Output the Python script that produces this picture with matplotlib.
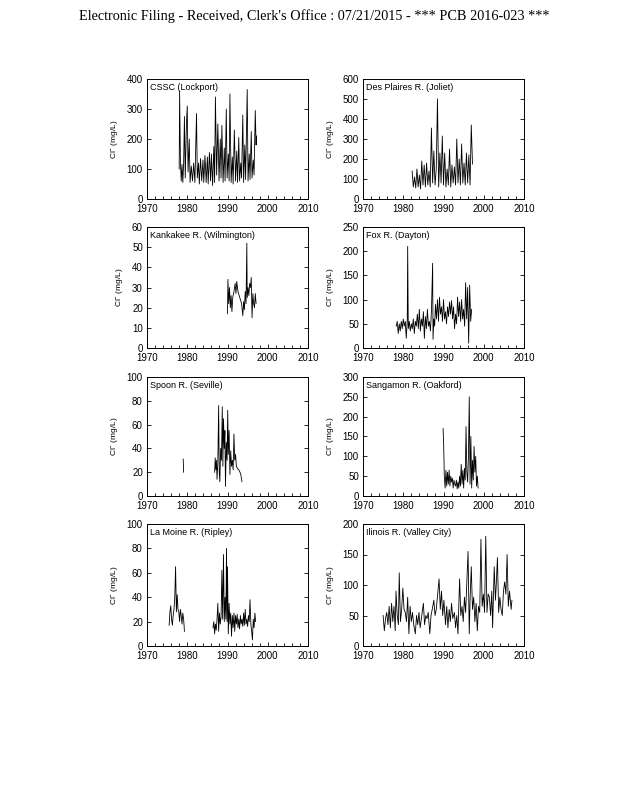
import matplotlib
matplotlib.use("Agg")
import matplotlib.pyplot as plt
from matplotlib.ticker import MultipleLocator

plt.rcParams['font.family'] = ['Liberation Sans', 'DejaVu Sans']
plt.rcParams['mathtext.fontset'] = 'custom'
plt.rcParams['mathtext.rm'] = 'Liberation Sans'

# Chloride records (decimal year, mg/L)
cssc = [(1978.0, 100), (1978.1, 360), (1978.3, 130), (1978.5, 60), (1978.7, 115), (1978.9, 55),
        (1979.1, 120), (1979.3, 275), (1979.5, 70), (1979.8, 250), (1980.0, 310), (1980.2, 90),
        (1980.5, 200), (1980.7, 55), (1981.0, 110), (1981.3, 60), (1981.6, 120), (1981.9, 55),
        (1982.3, 285), (1982.5, 70), (1982.8, 120), (1983.0, 50), (1983.3, 135), (1983.6, 60),
        (1983.9, 130), (1984.1, 55), (1984.4, 145), (1984.7, 55), (1985.0, 140), (1985.2, 50),
        (1985.5, 155), (1985.8, 60), (1986.0, 150), (1986.3, 45), (1986.6, 175), (1986.8, 55),
        (1987.0, 340), (1987.3, 80), (1987.6, 250), (1987.9, 60), (1988.2, 200), (1988.4, 70),
        (1988.6, 245), (1988.9, 55), (1989.2, 170), (1989.4, 60), (1989.7, 300), (1989.9, 70),
        (1990.2, 150), (1990.4, 60), (1990.6, 350), (1990.9, 55), (1991.2, 140), (1991.4, 50),
        (1991.7, 230), (1992.0, 60), (1992.3, 160), (1992.5, 55), (1992.8, 205), (1993.0, 60),
        (1993.3, 120), (1993.5, 70), (1993.8, 280), (1994.0, 55), (1994.3, 180), (1994.5, 65),
        (1994.9, 365), (1995.1, 60), (1995.4, 150), (1995.6, 65), (1995.9, 225), (1996.1, 70),
        (1996.4, 130), (1996.6, 80), (1996.9, 295), (1997.1, 180), (1997.2, 210)]

desplaines = [(1982.2, 140), (1982.5, 60), (1982.8, 110), (1983.1, 55), (1983.4, 150), (1983.7, 60),
              (1984.0, 120), (1984.3, 50), (1984.6, 190), (1984.9, 70), (1985.2, 170), (1985.5, 60),
              (1985.8, 180), (1986.1, 70), (1986.4, 140), (1986.7, 60), (1987.0, 355), (1987.3, 80),
              (1987.6, 240), (1987.9, 70), (1988.2, 150), (1988.5, 500), (1988.8, 60), (1989.1, 230),
              (1989.4, 80), (1989.7, 315), (1990.0, 70), (1990.3, 230), (1990.6, 60), (1990.9, 150),
              (1991.2, 70), (1991.5, 250), (1991.8, 60), (1992.1, 170), (1992.4, 80), (1992.7, 160),
              (1993.0, 70), (1993.3, 300), (1993.6, 80), (1993.9, 200), (1994.2, 70), (1994.5, 275),
              (1994.8, 80), (1995.1, 180), (1995.4, 70), (1995.7, 230), (1996.0, 80), (1996.3, 220),
              (1996.6, 70), (1996.9, 370), (1997.2, 175)]

kankakee = [(1990.0, 17), (1990.1, 34), (1990.3, 22), (1990.5, 30), (1990.7, 20), (1990.9, 26),
            (1991.1, 18), (1991.3, 25), (1991.6, 28), (1991.9, 32), (1992.1, 27), (1992.3, 33),
            (1992.6, 28), (1992.9, 26), (1993.2, 24), (1993.5, 22), (1993.8, 16), (1994.0, 23),
            (1994.2, 19), (1994.4, 28), (1994.6, 22), (1994.8, 52), (1994.9, 25), (1995.1, 30),
            (1995.3, 26), (1995.5, 32), (1995.7, 30), (1995.9, 35), (1996.1, 15), (1996.3, 27),
            (1996.5, 22), (1996.7, 20), (1996.9, 27), (1997.1, 22)]

fox = [(1978.25, 45), (1978.5, 55), (1978.75, 30), (1979.0, 50), (1979.25, 35), (1979.5, 55),
       (1979.75, 40), (1980.0, 60), (1980.25, 45), (1980.5, 55), (1980.75, 20), (1981.0, 60),
       (1981.1, 210), (1981.25, 40), (1981.5, 55), (1981.75, 35), (1982.0, 50), (1982.25, 40),
       (1982.5, 60), (1982.75, 30), (1983.0, 55), (1983.25, 45), (1983.5, 70), (1983.75, 40),
       (1984.0, 80), (1984.25, 35), (1984.5, 60), (1984.75, 45), (1985.0, 75), (1985.25, 20),
       (1985.5, 65), (1985.75, 40), (1986.0, 80), (1986.25, 45), (1986.5, 55), (1986.75, 35),
       (1987.0, 75), (1987.3, 175), (1987.4, 18), (1987.6, 60), (1987.8, 45), (1988.0, 90),
       (1988.25, 60), (1988.5, 100), (1988.75, 55), (1989.0, 105), (1989.25, 70), (1989.5, 85),
       (1989.75, 55), (1990.0, 100), (1990.25, 60), (1990.5, 75), (1990.75, 50), (1991.0, 85),
       (1991.25, 65), (1991.5, 95), (1991.75, 70), (1992.0, 98), (1992.25, 60), (1992.5, 85),
       (1992.75, 40), (1993.0, 70), (1993.25, 50), (1993.5, 105), (1993.75, 65), (1994.0, 95),
       (1994.25, 55), (1994.5, 100), (1994.75, 60), (1995.0, 80), (1995.25, 45), (1995.5, 135),
       (1995.75, 60), (1996.0, 125), (1996.25, 10), (1996.5, 130), (1996.75, 55), (1997.0, 80)]

spoon_early = [(1979.0, 31), (1979.1, 20)]
spoon = [(1986.8, 20), (1986.95, 32), (1987.1, 22), (1987.25, 30), (1987.4, 14), (1987.6, 28),
         (1987.8, 76), (1987.95, 20), (1988.1, 12), (1988.3, 40), (1988.5, 30), (1988.7, 75),
         (1988.85, 25), (1989.0, 65), (1989.2, 40), (1989.35, 55), (1989.5, 8), (1989.7, 45),
         (1989.9, 30), (1990.05, 72), (1990.2, 35), (1990.4, 55), (1990.6, 18), (1990.8, 38),
         (1991.0, 25), (1991.2, 30), (1991.4, 22), (1991.6, 52), (1991.8, 30), (1992.0, 35),
         (1992.2, 25), (1992.5, 23), (1992.8, 22), (1993.1, 20), (1993.3, 18), (1993.6, 12)]

sangamon = [(1989.9, 170), (1990.05, 125), (1990.2, 50), (1990.4, 20), (1990.6, 65), (1990.8, 25),
            (1991.0, 60), (1991.2, 30), (1991.4, 65), (1991.6, 25), (1991.8, 50), (1992.0, 35),
            (1992.2, 45), (1992.4, 20), (1992.6, 40), (1992.8, 30), (1993.0, 25), (1993.2, 40),
            (1993.4, 18), (1993.6, 35), (1993.8, 20), (1994.0, 50), (1994.2, 25), (1994.4, 80),
            (1994.6, 30), (1994.8, 65), (1995.0, 20), (1995.2, 70), (1995.4, 40), (1995.6, 175),
            (1995.8, 60), (1996.0, 35), (1996.2, 100), (1996.4, 250), (1996.6, 30), (1996.8, 150),
            (1997.0, 20), (1997.2, 90), (1997.4, 40), (1997.6, 125), (1997.8, 60), (1998.0, 100),
            (1998.2, 25), (1998.4, 50), (1998.6, 20)]

lamoine_early = [(1975.5, 17), (1975.7, 28), (1975.9, 33), (1976.1, 22), (1976.3, 17), (1976.5, 25),
                 (1976.7, 30), (1976.9, 40), (1977.1, 65), (1977.3, 28), (1977.5, 42), (1977.7, 30),
                 (1977.9, 28), (1978.1, 20), (1978.3, 30), (1978.5, 25), (1978.7, 18), (1978.9, 27),
                 (1979.1, 22), (1979.3, 12)]
lamoine = [(1986.4, 15), (1986.6, 20), (1986.8, 10), (1987.0, 18), (1987.2, 13), (1987.4, 22),
           (1987.6, 35), (1987.8, 12), (1988.0, 27), (1988.2, 18), (1988.4, 24), (1988.6, 62),
           (1988.8, 22), (1989.0, 75), (1989.2, 20), (1989.4, 40), (1989.6, 22), (1989.75, 80),
           (1989.9, 20), (1990.0, 65), (1990.2, 10), (1990.4, 35), (1990.6, 18), (1990.8, 27),
           (1991.0, 8), (1991.2, 25), (1991.4, 15), (1991.6, 27), (1991.8, 12), (1992.0, 25),
           (1992.2, 18), (1992.4, 26), (1992.6, 15), (1992.8, 22), (1993.0, 14), (1993.2, 25),
           (1993.4, 18), (1993.6, 22), (1993.8, 16), (1994.0, 27), (1994.2, 17), (1994.4, 30),
           (1994.6, 18), (1994.8, 22), (1995.0, 16), (1995.2, 25), (1995.4, 20), (1995.6, 38),
           (1995.8, 18), (1996.0, 12), (1996.2, 5), (1996.4, 22), (1996.6, 15), (1996.8, 27),
           (1997.0, 20)]

illinois = [(1975.0, 50), (1975.3, 25), (1975.6, 45), (1975.9, 55), (1976.2, 35), (1976.5, 65),
            (1976.8, 30), (1977.1, 70), (1977.4, 40), (1977.7, 65), (1978.0, 25), (1978.2, 90),
            (1978.5, 50), (1978.8, 35), (1979.0, 120), (1979.3, 40), (1979.6, 60), (1979.9, 95),
            (1980.2, 60), (1980.5, 55), (1980.8, 40), (1981.1, 80), (1981.4, 20), (1981.7, 65),
            (1982.0, 40), (1982.3, 55), (1982.6, 35), (1983.0, 20), (1983.3, 50), (1983.6, 35),
            (1983.9, 55), (1984.2, 30), (1984.5, 45), (1985.0, 70), (1985.3, 35), (1985.6, 50),
            (1985.9, 45), (1986.2, 55), (1986.6, 20), (1986.9, 50), (1987.2, 60), (1987.6, 75),
            (1987.9, 50), (1988.2, 60), (1988.9, 110), (1989.2, 60), (1989.5, 90), (1989.8, 50),
            (1990.1, 75), (1990.5, 35), (1990.8, 65), (1991.1, 30), (1991.4, 60), (1991.7, 40),
            (1992.0, 70), (1992.3, 45), (1992.7, 55), (1993.0, 30), (1993.3, 50), (1993.6, 20),
            (1994.0, 110), (1994.3, 50), (1994.6, 65), (1994.9, 40), (1995.2, 80), (1995.5, 55),
            (1996.1, 155), (1996.4, 20), (1996.6, 75), (1996.9, 130), (1997.2, 60), (1997.5, 80),
            (1997.8, 40), (1998.1, 70), (1998.4, 25), (1998.7, 65), (1999.0, 55), (1999.3, 175),
            (1999.6, 65), (1999.9, 85), (2000.2, 55), (2000.5, 180), (2000.8, 55), (2001.1, 85),
            (2001.4, 80), (2001.7, 50), (2002.0, 90), (2002.2, 30), (2002.6, 130), (2002.9, 75),
            (2003.1, 100), (2003.4, 145), (2003.7, 55), (2004.0, 80), (2004.3, 60), (2004.6, 50),
            (2004.9, 90), (2005.2, 105), (2005.5, 85), (2005.8, 150), (2006.1, 65), (2006.4, 90),
            (2006.8, 60), (2007.0, 75)]

panels = [
    ("CSSC (Lockport)", [cssc], 400, 100),
    ("Des Plaires R. (Joliet)", [desplaines], 600, 100),
    ("Kankakee R. (Wilmington)", [kankakee], 60, 10),
    ("Fox R. (Dayton)", [fox], 250, 50),
    ("Spoon R. (Seville)", [spoon_early, spoon], 100, 20),
    ("Sangamon R. (Oakford)", [sangamon], 300, 50),
    ("La Moine R. (Ripley)", [lamoine_early, lamoine], 100, 20),
    ("Ilinois R. (Valley City)", [illinois], 200, 50),
]

W, H = 617, 800
fig = plt.figure(figsize=(W / 100, H / 100), dpi=100)
fig.text(314 / W, 1 - 16 / H, "Electronic Filing - Received, Clerk's Office : 07/21/2015 - *** PCB 2016-023 ***",
         family='Liberation Serif', fontsize=10.3, ha='center', va='center')

col_left = [147, 363]
rows = [(79, 199), (227, 348), (377, 496), (524, 646)]
ax_w = 161

for i, (name, series, ymax, ystep) in enumerate(panels):
    top, bot = rows[i // 2]
    left = col_left[i % 2]
    ax = fig.add_axes([left / W, 1 - bot / H, ax_w / W, (bot - top) / H])
    for s in series:
        xs = [p[0] for p in s]
        ys = [p[1] for p in s]
        ax.plot(xs, ys, color='black', lw=0.6)
    ax.set_xlim(1970, 2010)
    ax.set_ylim(0, ymax)
    ax.xaxis.set_major_locator(MultipleLocator(10))
    ax.xaxis.set_minor_locator(MultipleLocator(2))
    ax.yaxis.set_major_locator(MultipleLocator(ystep))
    ax.tick_params(direction='in', which='both', labelsize=7, top=False, right=True, width=0.6)
    ax.tick_params(axis='x', pad=3.5)
    ax.tick_params(axis='y', pad=3)
    ax.tick_params(which='major', length=3)
    ax.tick_params(which='minor', length=2)
    for sp in ax.spines.values():
        sp.set_linewidth(0.7)
    ax.set_ylabel(r"Cl$^{-}$ (mg/L)", fontsize=6, labelpad=4)
    ax.text(0.02, 0.97, name, transform=ax.transAxes, fontsize=6.5, ha='left', va='top')

fig.savefig("out.png", dpi=100)
